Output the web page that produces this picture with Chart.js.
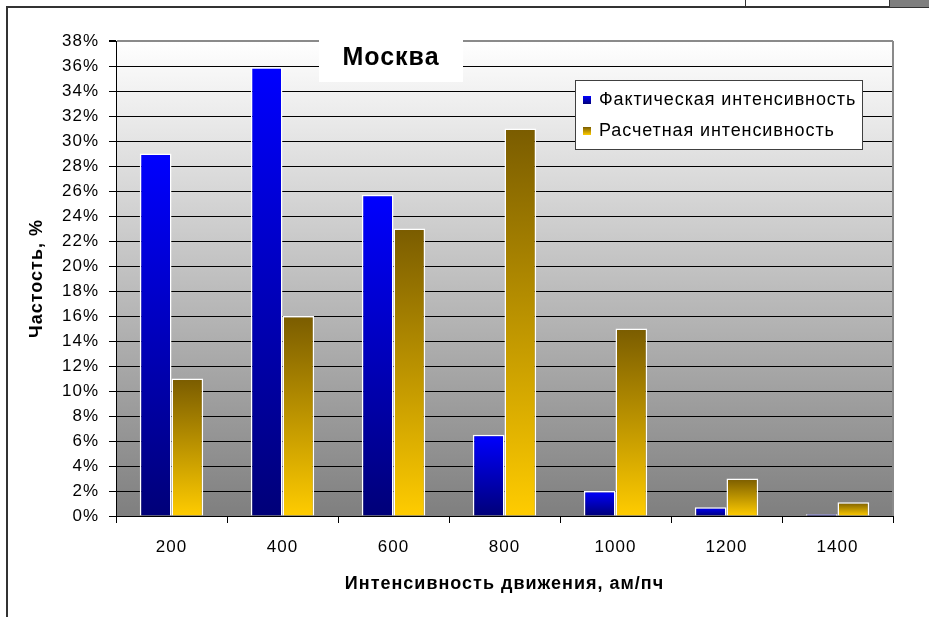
<!DOCTYPE html>
<html>
<head>
<meta charset="utf-8">
<script src="https://cdn.jsdelivr.net/npm/chart.js@4/dist/chart.umd.min.js"></script>
<style>
  html, body { margin: 0; padding: 0; background: #fff; }
  #wrap { position: relative; width: 929px; height: 617px; overflow: hidden; }
  canvas { position: absolute; left: 0; top: 0; }
  .ln { position: absolute; background: #333; }
</style>
</head>
<body>
<div id="wrap">
  <canvas id="c" width="929" height="617"></canvas>
  <div class="ln" style="left:6px; top:6px; width:923px; height:2px;"></div>
  <div class="ln" style="left:6px; top:6px; width:2px; height:611px;"></div>
  <div class="ln" style="left:745px; top:0; width:1px; height:7px;"></div>
  <div class="ln" style="left:889px; top:0; width:40px; height:7px; background:#7f7f7f; border-left:1px solid #333;"></div>
</div>
<script>
const categories = ['200', '400', '600', '800', '1000', '1200', '1400'];
const factual = [29, 35.9, 25.7, 6.5, 2.0, 0.7, 0.15];
const computed = [11, 16, 23, 31, 15, 3, 1.1];
const seriesNames = ['Фактическая интенсивность', 'Расчетная интенсивность'];
const chartTitle = 'Москва';
const xTitle = 'Интенсивность движения, ам/пч';
const yTitle = 'Частость, %';
const yMin = 0, yMax = 38, yStep = 2;

Chart.defaults.font.family = 'Arial, "Liberation Sans", sans-serif';
Chart.defaults.color = '#000';

const blueStops = ['#0000ff', '#000078'];
const goldStops = ['#7a5c00', '#ffcc00'];

function barGradient(stops) {
  return (ctx) => {
    const chart = ctx.chart;
    if (!chart.chartArea || ctx.type !== 'data') return stops[1];
    const ys = chart.scales.y;
    const top = ys.getPixelForValue(ctx.raw);
    const bottom = ys.getPixelForValue(0);
    if (!isFinite(top) || !isFinite(bottom) || bottom - top < 0.5) return stops[0];
    const g = chart.ctx.createLinearGradient(0, top, 0, bottom);
    g.addColorStop(0, stops[0]);
    g.addColorStop(1, stops[1]);
    return g;
  };
}

const decor = {
  id: 'decor',
  beforeDraw(chart) {
    const { ctx, chartArea: a } = chart;
    ctx.letterSpacing = '1px';
    ctx.save();
    const g = ctx.createLinearGradient(0, a.top, 0, a.bottom);
    g.addColorStop(0, '#ffffff');
    g.addColorStop(1, '#7f7f7f');
    ctx.fillStyle = g;
    ctx.fillRect(a.left, a.top, a.right - a.left, a.bottom - a.top);
    ctx.restore();
  },
  beforeDatasetsDraw(chart) {
    const { ctx, chartArea: a } = chart;
    ctx.save();
    ctx.strokeStyle = '#8a8a8a';
    ctx.lineWidth = 2;
    ctx.beginPath();
    ctx.moveTo(a.right, a.top);
    ctx.lineTo(a.right, a.bottom);
    ctx.stroke();
    ctx.restore();
  },
  afterDraw(chart) {
    const { ctx } = chart;
    ctx.save();
    // title box
    ctx.fillStyle = '#fff';
    ctx.fillRect(319, 28, 144, 54);
    ctx.fillStyle = '#000';
    ctx.font = 'bold 25px Arial, "Liberation Sans", sans-serif';
    ctx.textAlign = 'center';
    ctx.textBaseline = 'middle';
    ctx.letterSpacing = '1px';
    ctx.fillText(chartTitle, 391, 58);
    // legend box
    const lx = 575, ly = 80, lw = 287, lh = 69;
    ctx.fillStyle = '#fff';
    ctx.fillRect(lx, ly, lw, lh);
    ctx.strokeStyle = '#404040';
    ctx.lineWidth = 1;
    ctx.strokeRect(lx + 0.5, ly + 0.5, lw, lh);
    const rows = [[blueStops, 100], [goldStops, 131]];
    ctx.font = '18px Arial, "Liberation Sans", sans-serif';
    ctx.letterSpacing = '0.9px';
    ctx.textAlign = 'left';
    rows.forEach(([st, cy], i) => {
      const g = ctx.createLinearGradient(0, cy - 4, 0, cy + 4);
      g.addColorStop(0, st[0]);
      g.addColorStop(1, st[1]);
      ctx.fillStyle = g;
      ctx.fillRect(583, cy - 4, 8, 8);
      ctx.fillStyle = '#000';
      ctx.fillText(chart.data.datasets[i].label, 599, cy);
    });
    ctx.restore();
  }
};

new Chart(document.getElementById('c'), {
  type: 'bar',
  data: {
    labels: categories,
    datasets: [
      { label: seriesNames[0], data: factual, backgroundColor: barGradient(blueStops),
        borderColor: '#ffffff', borderWidth: 1.5 },
      { label: seriesNames[1], data: computed, backgroundColor: barGradient(goldStops),
        borderColor: '#ffffff', borderWidth: 1.5 }
    ]
  },
  options: {
    responsive: false,
    animation: false,
    devicePixelRatio: 1,
    layout: { padding: { left: 0, top: 41, right: 36, bottom: 0 } },
    datasets: { bar: { categoryPercentage: 2 / 3.5, barPercentage: 1 } },
    plugins: {
      legend: { display: false },
      title: { display: false },
      tooltip: { enabled: false }
    },
    scales: {
      x: {
        afterFit: (s) => { s.height = 101; },
        grid: { display: true, offset: true, drawOnChartArea: false, tickLength: 7, color: '#000', tickColor: '#000' },
        border: { display: true, color: '#000', width: 1 },
        ticks: { font: { size: 17 }, padding: 14, color: '#000' },
        title: { display: true, text: xTitle, font: { size: 18, weight: 'bold' }, padding: { top: 0, bottom: 22 }, color: '#000' }
      },
      y: {
        min: yMin, max: yMax,
        afterFit: (s) => { s.width = 116; },
        grid: {
          color: (c) => (c.tick && c.tick.value === yMax) ? '#8a8a8a' : '#000',
          lineWidth: (c) => (c.tick && c.tick.value === yMax) ? 2 : 1,
          tickLength: 7, tickColor: '#000'
        },
        border: { display: true, color: '#000', width: 1 },
        ticks: { stepSize: yStep, font: { size: 17 }, padding: 10, color: '#000',
          callback: (v) => v + '%' },
        title: { display: true, text: yTitle, font: { size: 18, weight: 'bold' }, padding: { top: 26, bottom: 0 }, color: '#000' }
      }
    }
  },
  plugins: [decor]
});
</script>
</body>
</html>
